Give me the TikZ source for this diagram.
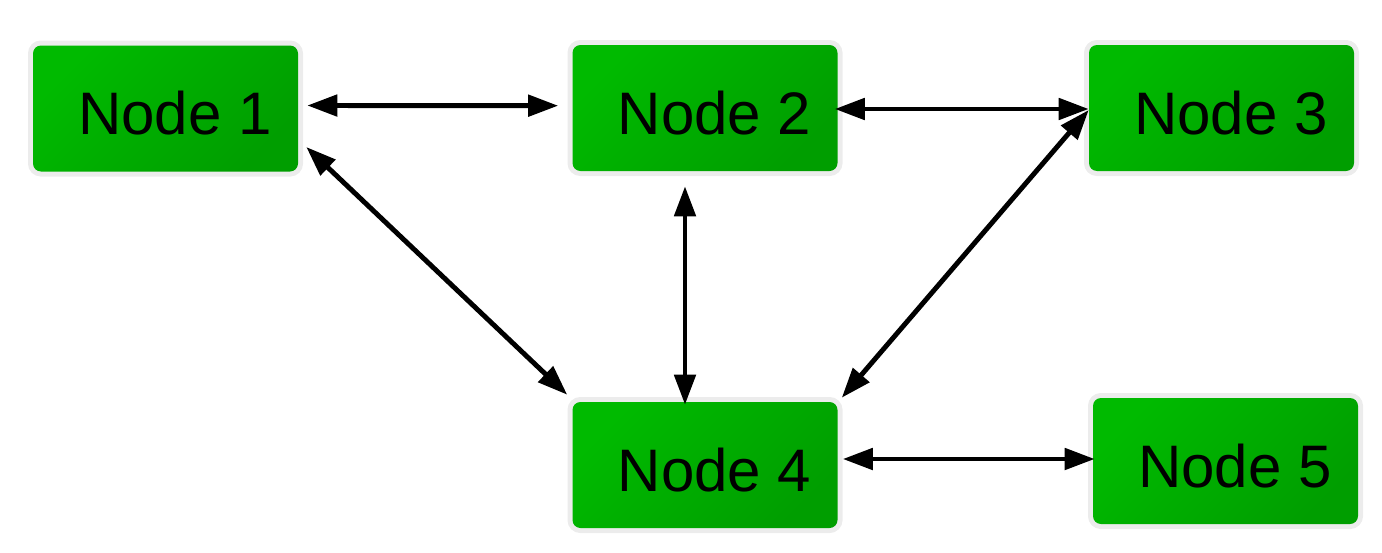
\documentclass[tikz,border=0pt]{standalone}
\usepackage{fontspec}
\setmainfont{Liberation Sans}
\usetikzlibrary{arrows.meta,calc}
\definecolor{boxlight}{RGB}{0,186,0}
\definecolor{boxdark}{RGB}{0,158,0}
\definecolor{halo}{RGB}{236,236,236}
\tikzset{
  box/.style={
    rounded corners=6pt,
    minimum width=198.75pt, minimum height=94.5pt,
    inner sep=0pt, text height=39pt, text depth=0pt,
    font=\fontsize{45pt}{50pt}\selectfont,
    preaction={draw=halo, line width=7.5pt, rounded corners=6pt},
    top color=boxlight, bottom color=boxdark, shading angle=45
  },
  link/.style={line width=3.7pt, black,
    {Triangle[length=22.5pt,width=15.75pt]}-{Triangle[length=22.5pt,width=15.75pt]}}
}
\newcommand{\boxtext}[1]{\hspace*{14.25pt}#1}
\begin{document}
\begin{tikzpicture}[x=0.75pt,y=-0.75pt]
\useasboundingbox (0,0) rectangle (1382,553);

\node[box] (n1) at (165.5,108.5) {\boxtext{Node 1}};
\node[box] (n2) at (705,108)   {\boxtext{Node 2}};
\node[box] (n3) at (1221.5,108) {\boxtext{Node 3}};
\node[box] (n4) at (705,465)   {\boxtext{Node 4}};
\node[box] (n5) at (1225.5,461) {\boxtext{Node 5}};

\draw[link] ($(n1.east)+(9,-3)$) -- ($(n2.west)+(-14,-2.3)$);
\draw[link] ($(n2.east)+(-3,1)$) -- ($(n3.west)+(0,1)$);
\draw[link] ($(n1.east)+(8,38.5)$) -- ($(n4.north west)+(-5,-7)$);
\draw[link] ($(n2.south)+(-20,15)$) -- ($(n4.north)+(-20,3)$);
\draw[link] ($(n3.west)+(0,2)$) -- ($(n4.north east)+(4,-4)$);
\draw[link] ($(n4.east)+(5,-6)$) -- ($(n5.west)+(2,-2)$);
\end{tikzpicture}
\end{document}
